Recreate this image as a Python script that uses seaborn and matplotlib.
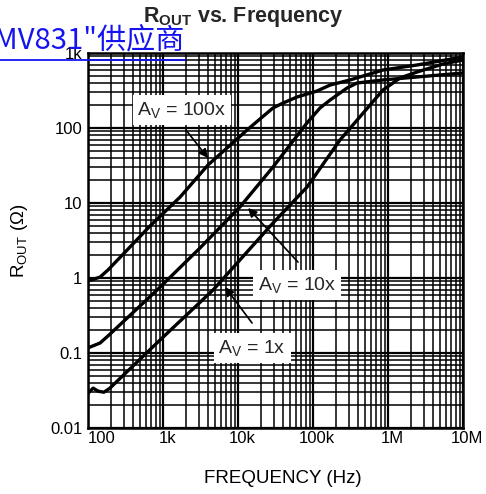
"""
R_OUT vs. Frequency -- log-log output resistance curves for three gains
"""
import numpy as np
import pandas as pd
import matplotlib
matplotlib.use('Agg')
import matplotlib.pyplot as plt
import matplotlib.transforms as mtransforms
from matplotlib.lines import Line2D
from matplotlib.ticker import LogLocator, NullFormatter
import seaborn as sns

# ============================================================
# Data
# ============================================================
freq_100x = [100, 145, 185, 363, 671, 1690, 3980, 13200, 19650, 29300,
             39800, 61200, 113000, 169000, 311000, 858000, 2440000, 10000000]
rout_100x = [0.91, 1.03, 1.28, 2.59, 4.93, 12.0, 32.1, 94.0, 132, 185,
             215, 259, 311, 374, 437, 593, 692, 885]

freq_10x = [100, 145, 185, 832, 3110, 10600, 29300, 83200, 124000, 169000,
            284000, 386000, 857000, 2440000, 10000000]
rout_10x = [0.117, 0.136, 0.169, 0.69, 2.51, 8.85, 30.2, 117, 185, 236,
            341, 398, 437, 479, 541]

freq_1x = [100, 117, 136, 163, 196, 912, 4640, 10600, 29300, 83200, 229000,
           857000, 1450000, 2440000, 5410000, 10000000]
rout_1x = [0.029, 0.034, 0.031, 0.030, 0.034, 0.149, 0.69, 1.74, 5.41, 16.3,
           69.2, 321, 465, 558, 713, 807]

x_ticks = [1e2, 1e3, 1e4, 1e5, 1e6, 1e7]
x_tick_labels = ['100', '1k', '10k', '100k', '1M', '10M']
y_ticks = [0.01, 0.1, 1, 10, 100, 1000]
y_tick_labels = ['0.01', '0.1', '1', '10', '100', '1k']

df = pd.concat([
    pd.DataFrame({'freq': freq_100x, 'rout': rout_100x, 'gain': '100x'}),
    pd.DataFrame({'freq': freq_10x, 'rout': rout_10x, 'gain': '10x'}),
    pd.DataFrame({'freq': freq_1x, 'rout': rout_1x, 'gain': '1x'}),
], ignore_index=True)

# ============================================================
# Style
# ============================================================
sns.set_theme(style='white')
plt.rcParams['font.family'] = ['Liberation Sans', 'DejaVu Sans']
plt.rcParams['mathtext.fontset'] = 'custom'
plt.rcParams['mathtext.rm'] = 'Liberation Sans'
plt.rcParams['mathtext.bf'] = 'Liberation Sans:bold'
plt.rcParams['mathtext.it'] = 'Liberation Sans:italic'
plt.rcParams['mathtext.sf'] = 'Liberation Sans'

W, H = 486, 494
fig = plt.figure(figsize=(W / 100, H / 100), dpi=100)
ax = fig.add_axes([88 / W, 66 / H, 375 / W, 375 / H])
ax.set_xscale('log')
ax.set_yscale('log')

sns.lineplot(data=df, x='freq', y='rout', hue='gain',
             palette={'100x': 'black', '10x': 'black', '1x': 'black'},
             estimator=None, sort=False, legend=False, lw=2.4, ax=ax,
             zorder=3)

ax.set_xlim(1e2, 1e7)
ax.set_ylim(1e-2, 1e3)

# dense engineering grid
for axis in (ax.xaxis, ax.yaxis):
    axis.set_minor_locator(LogLocator(base=10, subs=np.arange(2, 10)))
    axis.set_minor_formatter(NullFormatter())
ax.grid(which='major', color='black', lw=1.6)
ax.grid(which='minor', color='black', lw=1.1)
ax.set_axisbelow(True)

ax.set_xticks(x_ticks, labels=x_tick_labels)
ax.set_yticks(y_ticks, labels=y_tick_labels)
ax.tick_params(which='both', length=0)
ax.tick_params(axis='x', labelsize=12, pad=2, colors='black')
ax.tick_params(axis='y', labelsize=12, pad=4, colors='black')

shift = mtransforms.ScaledTranslation(3 / 72, 0, fig.dpi_scale_trans)
xlabels = ax.get_xticklabels()
for lab in xlabels[1:]:
    lab.set_transform(lab.get_transform() + shift)
xlabels[0].set_ha('left')

for sp in ax.spines.values():
    sp.set_color('black')
    sp.set_linewidth(1.8)

ax.set_xlabel('FREQUENCY (Hz)', fontsize=13.5, color='black')
ax.xaxis.set_label_coords(0.52, -0.112)
ax.set_ylabel(r'R$_{\mathrm{OUT}}$ ($\Omega$)', fontsize=13.5, color='black')
ax.yaxis.set_label_coords(-0.155, 0.5)

fig.text(0.5, 1 - 17 / H, r'$\mathbf{R_{OUT}}$ vs. Frequency',
         ha='center', va='center', fontsize=15.5, fontweight='bold')

# ============================================================
# Gain labels with arrows
# ============================================================
box = dict(boxstyle='square,pad=0.25', fc='white', ec='none')
arrow = dict(arrowstyle='-|>', color='black', lw=1.2, mutation_scale=13,
             shrinkA=0, shrinkB=0)

ax.text(1790, 174, r'A$_{\mathrm{V}}$ = 100x', fontsize=14, ha='center',
        va='center', bbox=box, zorder=6)
ax.annotate('', xy=(3980, 39.8), xytext=(2025, 94), arrowprops=arrow,
            zorder=6)

ax.text(61200, 0.807, r'A$_{\mathrm{V}}$ = 10x', fontsize=14, ha='center',
        va='center', bbox=box, zorder=6)
ax.annotate('', xy=(13600, 8.58), xytext=(63100, 1.63), arrowprops=arrow,
            zorder=6)

ax.text(15400, 0.117, r'A$_{\mathrm{V}}$ = 1x', fontsize=14, ha='center',
        va='center', bbox=box, zorder=6)
ax.annotate('', xy=(6710, 0.759), xytext=(15400, 0.251), arrowprops=arrow,
            zorder=6)

# blue link overlay at top left
fig.text(184 / W, 1 - 48 / H, 'MV831"供应商', color='#1414f0', fontsize=21,
         ha='right', va='baseline', family=['Noto Sans CJK SC', 'DejaVu Sans'])
fig.add_artist(Line2D([0, 185 / W], [1 - 60 / H, 1 - 60 / H],
                      transform=fig.transFigure, color='#1414f0', lw=1.3))

fig.savefig('out.png', dpi=100)
